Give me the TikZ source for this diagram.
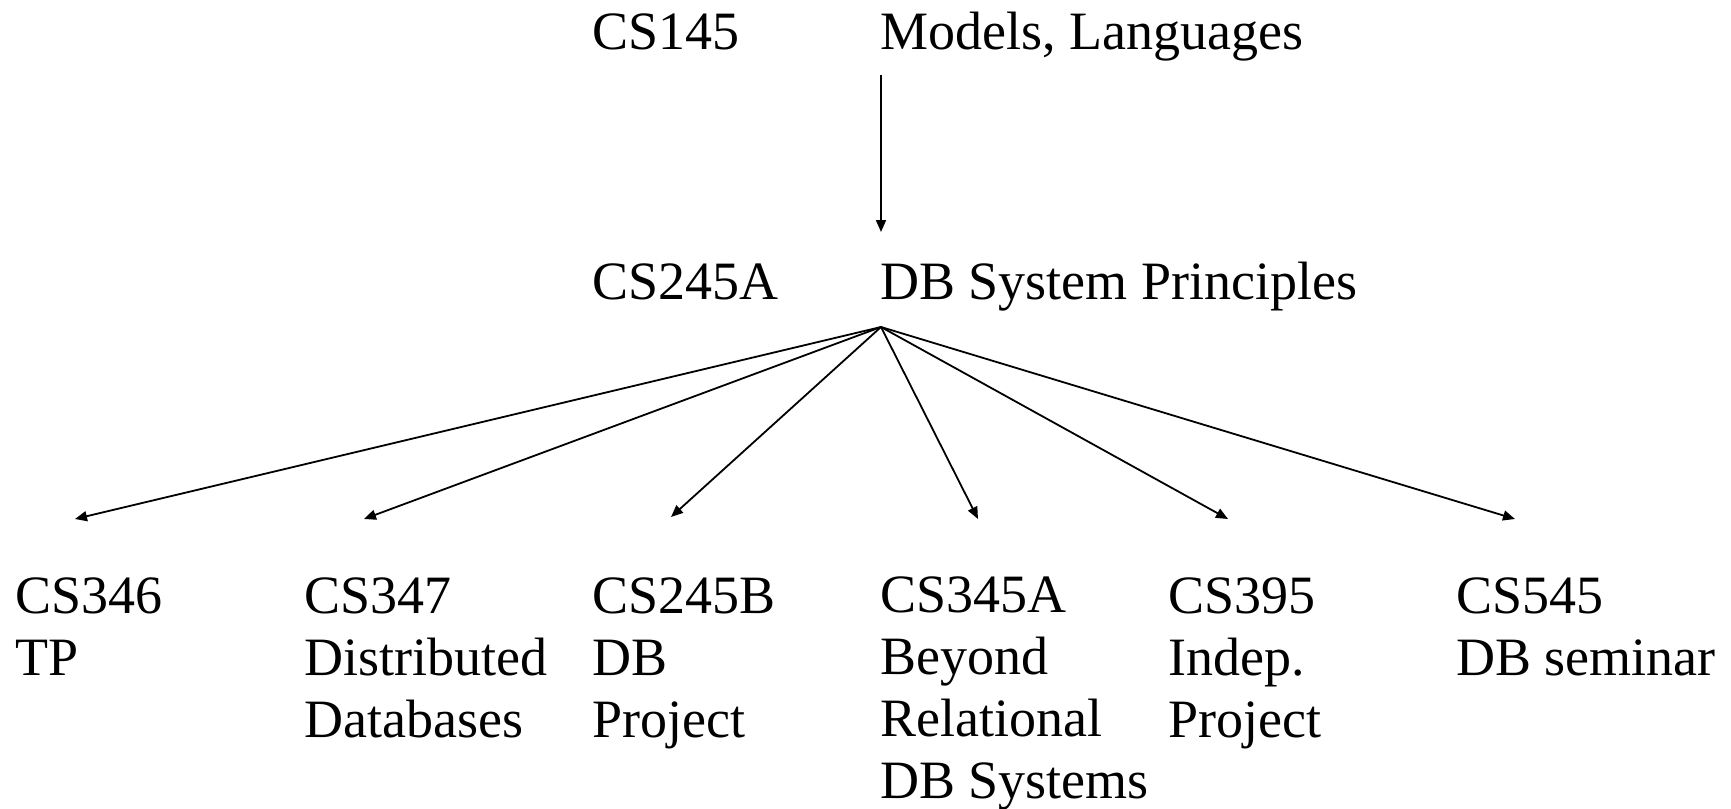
\documentclass[tikz,border=0pt]{standalone}
\usepackage{fontspec}
\setmainfont{Liberation Serif}
\usetikzlibrary{arrows.meta}
\begin{document}
\begin{tikzpicture}[x=1pt,y=-1pt,
  lbl/.style={anchor=base west,inner sep=0pt,align=left,font=\fontsize{54}{62}\selectfont},
  arr/.style={line width=1.8pt,-{Triangle[length=12pt,width=10pt]}}]
\useasboundingbox (0,0) rectangle (1731,808);
\node[lbl] (c145) at (592,50) {CS145};
\node[lbl] (t145) at (880,50) {Models, Languages};
\node[lbl] (c245a) at (592,299) {CS245A};
\node[lbl] (t245a) at (880,299) {DB System Principles};
\coordinate (top) at (881,75);
\coordinate (mid) at (881,232);
\coordinate (fan) at (881,327);
% base anchor of a multi-line node is the baseline of its last line
\node[lbl] (n346) at (15,675) {CS346\\TP};
\node[lbl] (n347) at (304,737) {CS347\\Distributed\\Databases};
\node[lbl] (n245b) at (592,737) {CS245B\\DB\\Project};
\node[lbl] (n345a) at (880,798) {CS345A\\Beyond\\Relational\\DB Systems};
\node[lbl] (n395) at (1168,737) {CS395\\Indep.\\Project};
\node[lbl] (n545) at (1456,675) {CS545\\DB seminar};
\coordinate (e346) at (75,519);
\coordinate (e347) at (364,519);
\coordinate (e245b) at (671,517);
\coordinate (e345a) at (978,519);
\coordinate (e395) at (1228,519);
\coordinate (e545) at (1515,519);
\draw[arr] (top) -- (mid);
\foreach \e in {e346,e347,e245b,e345a,e395,e545} \draw[arr] (fan) -- (\e);
\end{tikzpicture}
\end{document}
